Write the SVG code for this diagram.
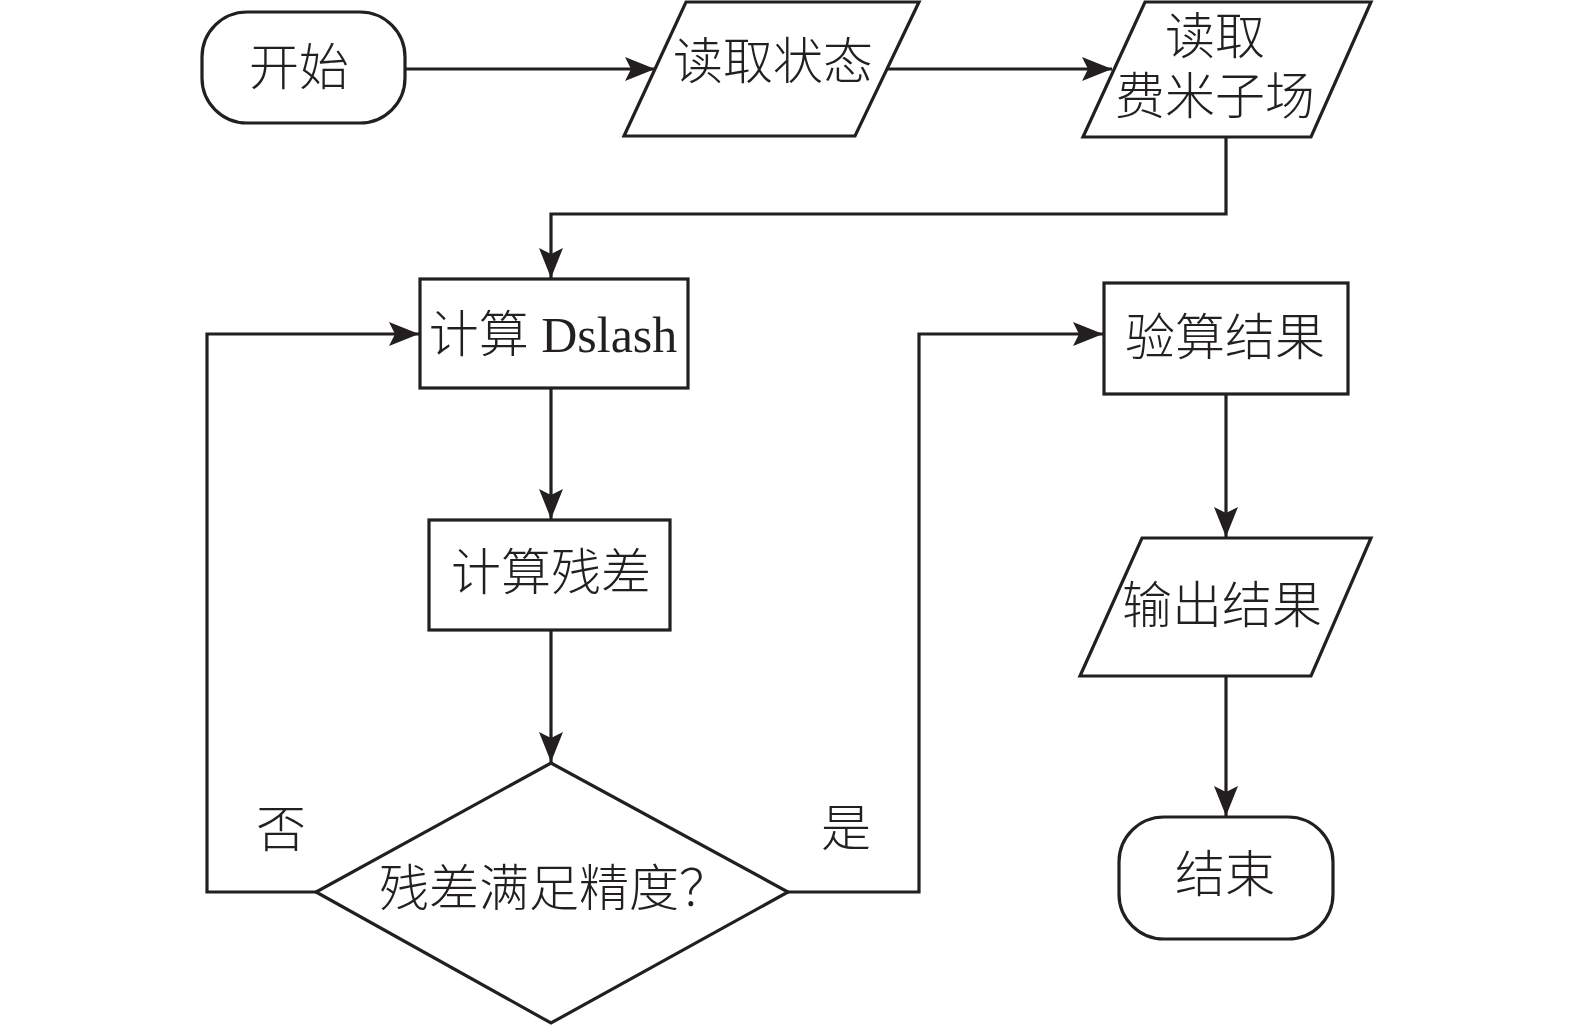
<svg xmlns="http://www.w3.org/2000/svg" width="1575" height="1026" viewBox="0 0 1575 1026">
<style>
.n{fill:#fff;stroke:#231f20;stroke-width:3.2}
.t{font-family:"Liberation Serif","Noto Sans CJK SC",serif;font-size:50px;font-weight:300;fill:#231f20;text-anchor:middle;dominant-baseline:central}
.c{fill:none;stroke:#231f20;stroke-width:3.2}
</style>
<defs>
<marker id="ar" markerUnits="userSpaceOnUse" markerWidth="32" markerHeight="26" refX="30" refY="12" orient="auto">
<path d="M0,0 L30,12 L0,24 L6,12 z" fill="#231f20"/>
</marker>
</defs>
<rect width="1575" height="1026" fill="#fff"/>
<g id="connectors">
<path class="c" d="M405,69 H655" marker-end="url(#ar)"/>
<path class="c" d="M888,69 H1112" marker-end="url(#ar)"/>
<path class="c" d="M1226,137 V214 H551 V278" marker-end="url(#ar)"/>
<path class="c" d="M551,388 V519" marker-end="url(#ar)"/>
<path class="c" d="M551,630 V762" marker-end="url(#ar)"/>
<path class="c" d="M316,892 H207 V334 H419" marker-end="url(#ar)"/>
<path class="c" d="M788,892 H919 V334 H1103" marker-end="url(#ar)"/>
<path class="c" d="M1226,394 V537" marker-end="url(#ar)"/>
<path class="c" d="M1226,676 V816" marker-end="url(#ar)"/>
</g>
<g id="start"><rect class="n" x="202" y="12" width="203" height="111" rx="45"/><text class="t" x="299" y="68">开始</text></g>
<g id="readState"><polygon class="n" points="686,2 919,2 855,136 624,136"/><text class="t" x="773" y="62">读取状态</text></g>
<g id="readFermion"><polygon class="n" points="1145,2 1371,2 1311,137 1083,137"/><text class="t" x="1215" y="37">读取</text><text class="t" x="1215" y="97">费米子场</text></g>
<g id="dslash"><rect class="n" x="420" y="279" width="268" height="109"/><text class="t" x="553" y="335">计算 Dslash</text></g>
<g id="residual"><rect class="n" x="429" y="520" width="241" height="110"/><text class="t" x="551" y="573">计算残差</text></g>
<g id="decision"><polygon class="n" points="551,763 788,892 551,1023 316,892"/><text class="t" x="554" y="889">残差满足精度？</text></g>
<text class="t" x="281" y="830">否</text>
<text class="t" x="846" y="829">是</text>
<g id="verify"><rect class="n" x="1104" y="283" width="244" height="111"/><text class="t" x="1225" y="338">验算结果</text></g>
<g id="output"><polygon class="n" points="1142,538 1371,538 1311,676 1080,676"/><text class="t" x="1222" y="606">输出结果</text></g>
<g id="end"><rect class="n" x="1119" y="817" width="214" height="122" rx="45"/><text class="t" x="1225" y="875">结束</text></g>
</svg>
